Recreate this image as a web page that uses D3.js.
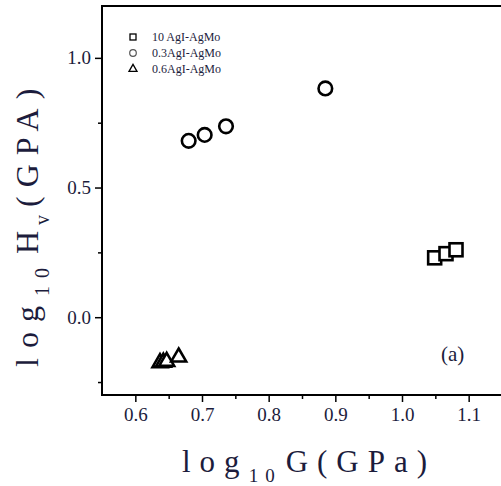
<!DOCTYPE html>
<html>
<head>
<meta charset="utf-8">
<script src="https://cdn.jsdelivr.net/npm/d3@7"></script>
<style>
  body { margin: 0; background: #fff; }
  text { font-family: "Liberation Serif", "DejaVu Serif", serif; }
</style>
</head>
<body>
<div id="chart"></div>
<script>
// data (log10 G, log10 Hv)
var sq_x = [1.049, 1.066, 1.081];
var sq_y = [0.229, 0.245, 0.260];
var ci_x = [0.680, 0.704, 0.736, 0.885];
var ci_y = [0.680, 0.703, 0.736, 0.882];
var tr_x = [0.637, 0.642, 0.647, 0.665];
var tr_y = [-0.176, -0.174, -0.171, -0.154];

var xTicks = [0.6, 0.7, 0.8, 0.9, 1.0, 1.1];
var xMinor = [0.65, 0.75, 0.85, 0.95, 1.05];
var yTicks = [0.0, 0.5, 1.0];
var yMinor = [-0.25, 0.25, 0.75];
var legendNames = ["10 AgI-AgMo", "0.3AgI-AgMo", "0.6AgI-AgMo"];

var width = 501, height = 486;
// plot box (window.top is reserved, so no plain "top")
var pLeft = 102, pTop = 6, pRight = 502, pBottom = 395;
var txtCol = "#1c1c3c";

var svg = d3.select("#chart").append("svg")
    .attr("width", width).attr("height", height);

var x = d3.scaleLinear().domain([0.55, 1.15]).range([pLeft, pRight]);
var y = d3.scaleLinear().domain([-0.3, 1.2]).range([pBottom, pTop]);

// frame
svg.append("rect")
    .attr("x", pLeft).attr("y", pTop)
    .attr("width", pRight - pLeft).attr("height", pBottom - pTop)
    .attr("fill", "none").attr("stroke", "#000").attr("stroke-width", 2);

// axes
svg.append("g").attr("transform", "translate(0," + pBottom + ")")
    .call(d3.axisBottom(x).tickValues(xTicks).tickFormat(d3.format(".1f")).tickSize(7).tickPadding(6));
svg.append("g").attr("transform", "translate(0," + pBottom + ")")
    .call(d3.axisBottom(x).tickValues(xMinor).tickFormat("").tickSize(4));
svg.append("g").attr("transform", "translate(" + pLeft + ",0)")
    .call(d3.axisLeft(y).tickValues(yTicks).tickFormat(d3.format(".1f")).tickSize(7).tickPadding(4));
svg.append("g").attr("transform", "translate(" + pLeft + ",0)")
    .call(d3.axisLeft(y).tickValues(yMinor).tickFormat("").tickSize(4));

svg.selectAll(".domain").remove();
svg.selectAll(".tick line").attr("stroke", "#000").attr("stroke-width", 1.5);
svg.selectAll(".tick text")
    .style("font-family", "Liberation Serif, serif")
    .style("font-size", "19px").attr("fill", txtCol);

// x title
var xt = svg.append("text").attr("x", 182).attr("y", 472)
    .attr("fill", txtCol).style("font-size", "31px");
xt.append("tspan").attr("letter-spacing", "9px").text("log");
xt.append("tspan").attr("dy", 10).style("font-size", "19px").attr("letter-spacing", "7px").text("10");
xt.append("tspan").attr("dy", -10).attr("dx", 4).attr("letter-spacing", "9px").text("G(GPa)");

// y title
var yt = svg.append("text").attr("transform", "translate(38,367) rotate(-90)")
    .attr("fill", txtCol).style("font-size", "32px");
yt.append("tspan").attr("letter-spacing", "10px").text("log");
yt.append("tspan").attr("dy", 11).style("font-size", "20px").attr("letter-spacing", "8px").text("10");
yt.append("tspan").attr("dy", -11).attr("dx", 6).attr("letter-spacing", "6px").text("H");
yt.append("tspan").attr("dy", 11).style("font-size", "20px").text("v");
yt.append("tspan").attr("dy", -11).attr("dx", 8).attr("letter-spacing", "9px").text("(GPA)");

// markers
var sqSide = 13, r = 6.8, triS = 15;
var triPath = function (cx, cy, s) {
    var h = s * Math.sqrt(3) / 2;
    return "M" + cx + "," + (cy - h * 2 / 3) + "L" + (cx + s / 2) + "," + (cy + h / 3) +
        "L" + (cx - s / 2) + "," + (cy + h / 3) + "Z";
};

svg.append("g").selectAll("rect").data(d3.range(sq_x.length)).enter().append("rect")
    .attr("x", function (i) { return x(sq_x[i]) - sqSide / 2; })
    .attr("y", function (i) { return y(sq_y[i]) - sqSide / 2; })
    .attr("width", sqSide).attr("height", sqSide)
    .attr("fill", "#fff").attr("stroke", "#000").attr("stroke-width", 2.6);

svg.append("g").selectAll("circle").data(d3.range(ci_x.length)).enter().append("circle")
    .attr("cx", function (i) { return x(ci_x[i]); })
    .attr("cy", function (i) { return y(ci_y[i]); })
    .attr("r", r)
    .attr("fill", "none").attr("stroke", "#000").attr("stroke-width", 2.6);

svg.append("g").selectAll("path").data(d3.range(tr_x.length)).enter().append("path")
    .attr("d", function (i) { return triPath(x(tr_x[i]), y(tr_y[i]), triS); })
    .attr("fill", "#fff").attr("stroke", "#000").attr("stroke-width", 2.6)
    .attr("stroke-linejoin", "miter");

// legend
var lg = svg.append("g");
var ly = [37, 53, 69];
lg.append("rect").attr("x", 130).attr("y", ly[0] - 3).attr("width", 6).attr("height", 6)
    .attr("fill", "none").attr("stroke", "#000").attr("stroke-width", 1.3);
lg.append("circle").attr("cx", 133).attr("cy", ly[1]).attr("r", 3.3)
    .attr("fill", "none").attr("stroke", "#555").attr("stroke-width", 1.2);
lg.append("path").attr("d", triPath(133, ly[2], 8))
    .attr("fill", "none").attr("stroke", "#000").attr("stroke-width", 1.3);
lg.selectAll("text").data(legendNames).enter().append("text")
    .attr("x", 152).attr("y", function (d, i) { return ly[i] + 4; })
    .attr("fill", txtCol).style("font-size", "12px").text(function (d) { return d; });

// panel label
svg.append("text").attr("x", 441).attr("y", 361)
    .attr("fill", txtCol).style("font-size", "21px").text("(a)");
</script>
</body>
</html>
